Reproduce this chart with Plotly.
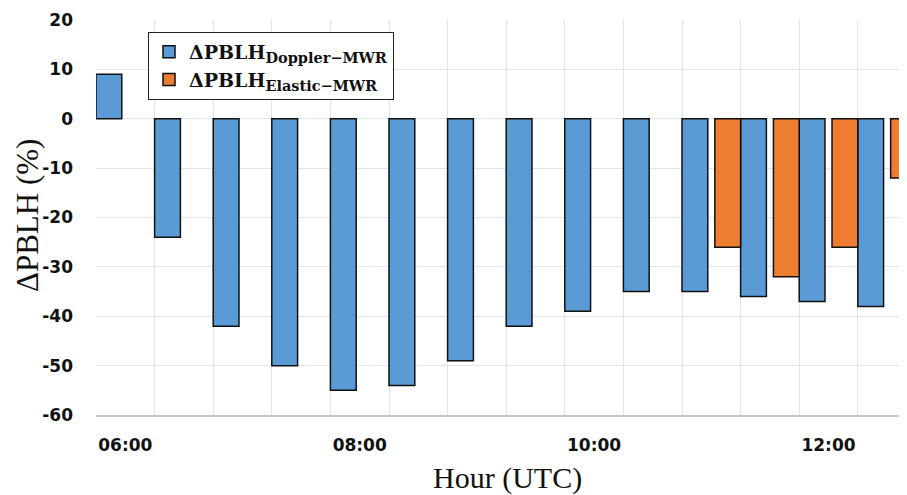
import plotly.graph_objects as go

# Categories (half-hour slots)
hours = ["06:00", "06:30", "07:00", "07:30", "08:00", "08:30", "09:00",
         "09:30", "10:00", "10:30", "11:00", "11:30", "12:00", "12:30"]
x_tick_labels = ["06:00", "", "", "", "08:00", "", "", "", "10:00", "", "", "", "12:00", ""]

y_tick_vals = [20, 10, 0, -10, -20, -30, -40, -50, -60]
y_tick_labels = ["20", "10", "0", "-10", "-20", "-30", "-40", "-50", "-60"]

x_title = "Hour (UTC)"
y_title = "ΔPBLH (%)"

doppler_hours = hours
doppler_vals = [9, -24, -42, -50, -55, -54, -49, -42, -39, -35, -35, -36, -37, -38]

elastic_hours = ["11:00", "11:30", "12:00", "12:30"]
elastic_vals = [-26, -32, -26, -12]

fig = go.Figure()
fig.add_trace(go.Bar(
    x=doppler_hours, y=doppler_vals,
    name="<b>ΔPBLH<sub><span style='font-size:14.5px'>Doppler−MWR</span></sub></b>",
    marker=dict(color="#5b9bd5", line=dict(color="#111111", width=1.5)),
    width=0.44, offset=-0.5,
))
fig.add_trace(go.Bar(
    x=elastic_hours, y=elastic_vals,
    name="<b>ΔPBLH<sub><span style='font-size:14.5px'>Elastic−MWR</span></sub></b>",
    marker=dict(color="#ed7d31", line=dict(color="#111111", width=1.5)),
    width=0.44, offset=0.06,
))

# Page body adds an 8px offset, so the figure is sized 8px smaller than the window
fig.update_layout(
    width=899, height=487,
    margin=dict(l=88, r=0, t=12, b=80, autoexpand=False),
    paper_bgcolor="white", plot_bgcolor="white",
    barmode="overlay",
    showlegend=True,
    legend=dict(
        x=(148 - 96) / 811, y=1 - (32 - 20) / 395,
        xanchor="left", yanchor="top",
        bordercolor="#222222", borderwidth=1, bgcolor="white",
        font=dict(family="DejaVu Serif", size=19, color="#111111"),
        tracegroupgap=0, itemwidth=30,
    ),
    xaxis=dict(
        type="category",
        categoryorder="array", categoryarray=hours,
        tickmode="array", tickvals=hours, ticktext=x_tick_labels,
        tickson="boundaries", tickangle=0,
        range=[-0.5, -0.5 + 811 / 58.6],
        showgrid=True, gridcolor="#e4e4e4", gridwidth=1,
        showline=True, linecolor="#c8c8c8", linewidth=1.5,
        ticks="", ticklabelstandoff=14, automargin=False,
        tickfont=dict(family="DejaVu Sans", size=17, color="#111111", weight="bold"),
    ),
    yaxis=dict(
        range=[-60, 20],
        tickmode="array", tickvals=y_tick_vals, ticktext=y_tick_labels,
        showgrid=True, gridcolor="#e4e4e4", gridwidth=1,
        zeroline=False, showline=False,
        ticks="", ticklabelstandoff=22, automargin=False,
        tickfont=dict(family="DejaVu Sans", size=17, color="#111111", weight="bold"),
    ),
    annotations=[
        dict(text=x_title, xref="paper", yref="paper",
             x=(499.5 - 88) / 811, y=(407 - 470) / 395,
             xanchor="center", yanchor="middle", showarrow=False,
             font=dict(family="Liberation Serif", size=30, color="#111111")),
        dict(text=y_title, xref="paper", yref="paper",
             x=(19 - 88) / 811, y=(407 - 208) / 395,
             xanchor="center", yanchor="middle", showarrow=False, textangle=-90,
             font=dict(family="Liberation Serif", size=31, color="#111111")),
    ],
)

fig.write_html("out.html")
